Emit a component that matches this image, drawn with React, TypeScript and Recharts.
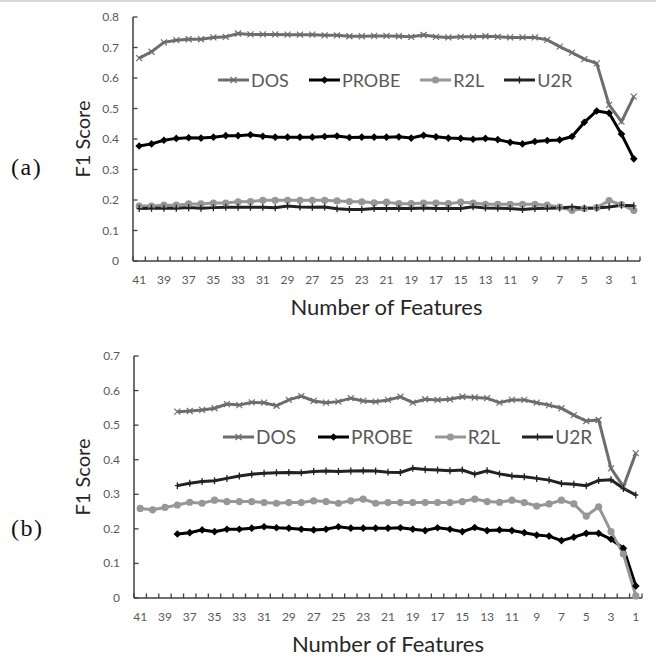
import { LineChart, Line, XAxis, YAxis, Legend } from 'recharts';

const FONT = 'Lato, "Open Sans", sans-serif';
const AXIS = '#3f3f3f';
const TICK_TEXT = '#595959';
const WIDTH = 656;

// x categories: number of features, reversed (41 -> 1)
const features = [41, 40, 39, 38, 37, 36, 35, 34, 33, 32, 31, 30, 29, 28, 27, 26, 25, 24, 23, 22, 21,
  20, 19, 18, 17, 16, 15, 14, 13, 12, 11, 10, 9, 8, 7, 6, 5, 4, 3, 2, 1];

const seriesNames = ['DOS', 'PROBE', 'R2L', 'U2R'];

// panel (a)
const dosA = [0.665, 0.686, 0.717, 0.724, 0.727, 0.727, 0.733, 0.735, 0.746, 0.743, 0.743, 0.743, 0.742, 0.742,
  0.742, 0.740, 0.740, 0.737, 0.737, 0.738, 0.738, 0.737, 0.735, 0.741, 0.735, 0.733, 0.735, 0.735, 0.737,
  0.735, 0.733, 0.733, 0.733, 0.725, 0.703, 0.683, 0.662, 0.648, 0.512, 0.457, 0.539];
const probeA = [0.377, 0.384, 0.396, 0.402, 0.404, 0.403, 0.406, 0.411, 0.411, 0.414, 0.409, 0.406, 0.406, 0.406,
  0.406, 0.408, 0.410, 0.405, 0.406, 0.406, 0.406, 0.407, 0.403, 0.412, 0.407, 0.403, 0.402, 0.399, 0.402,
  0.398, 0.389, 0.384, 0.392, 0.395, 0.397, 0.408, 0.455, 0.492, 0.485, 0.416, 0.335];
const r2lA = [0.180, 0.180, 0.183, 0.183, 0.187, 0.187, 0.190, 0.190, 0.194, 0.195, 0.199, 0.199, 0.199, 0.199,
  0.199, 0.199, 0.197, 0.195, 0.194, 0.191, 0.193, 0.188, 0.188, 0.190, 0.190, 0.188, 0.193, 0.190, 0.186,
  0.186, 0.186, 0.186, 0.186, 0.183, 0.177, 0.166, 0.172, 0.175, 0.198, 0.185, 0.166];
const u2rA = [0.172, 0.173, 0.173, 0.173, 0.175, 0.173, 0.175, 0.176, 0.176, 0.176, 0.176, 0.175, 0.180, 0.177,
  0.176, 0.177, 0.171, 0.169, 0.169, 0.172, 0.172, 0.172, 0.172, 0.174, 0.172, 0.172, 0.172, 0.178, 0.174,
  0.173, 0.172, 0.169, 0.172, 0.173, 0.174, 0.177, 0.173, 0.174, 0.177, 0.183, 0.181];

// panel (b) - DOS, PROBE, U2R start at 38 features
const dosB = [null, null, null, 0.539, 0.541, 0.544, 0.549, 0.561, 0.558, 0.566, 0.565, 0.556, 0.573, 0.584,
  0.570, 0.565, 0.568, 0.578, 0.570, 0.568, 0.573, 0.582, 0.565, 0.575, 0.573, 0.575, 0.582, 0.580, 0.578,
  0.565, 0.573, 0.573, 0.565, 0.558, 0.549, 0.529, 0.512, 0.515, 0.375, 0.322, 0.419];
const probeB = [null, null, null, 0.185, 0.189, 0.197, 0.192, 0.199, 0.199, 0.202, 0.206, 0.203, 0.202, 0.199,
  0.197, 0.199, 0.206, 0.202, 0.202, 0.202, 0.202, 0.203, 0.199, 0.195, 0.203, 0.199, 0.192, 0.204, 0.195,
  0.197, 0.195, 0.189, 0.182, 0.179, 0.166, 0.176, 0.187, 0.187, 0.170, 0.144, 0.035];
const r2lB = [0.259, 0.255, 0.262, 0.269, 0.277, 0.274, 0.283, 0.279, 0.279, 0.279, 0.276, 0.274, 0.276, 0.276,
  0.281, 0.279, 0.274, 0.281, 0.286, 0.274, 0.276, 0.276, 0.276, 0.276, 0.276, 0.276, 0.279, 0.286, 0.279,
  0.277, 0.283, 0.276, 0.266, 0.272, 0.283, 0.272, 0.237, 0.264, 0.192, 0.127, 0.006];
const u2rB = [null, null, null, 0.325, 0.332, 0.337, 0.339, 0.346, 0.353, 0.358, 0.361, 0.362, 0.363, 0.362,
  0.366, 0.367, 0.366, 0.367, 0.368, 0.367, 0.364, 0.363, 0.375, 0.372, 0.370, 0.368, 0.370, 0.358, 0.368,
  0.359, 0.353, 0.351, 0.346, 0.341, 0.331, 0.329, 0.325, 0.340, 0.342, 0.317, 0.298];

const yTicksA = [0, 0.1, 0.2, 0.3, 0.4, 0.5, 0.6, 0.7, 0.8];
const yTicksB = [0, 0.1, 0.2, 0.3, 0.4, 0.5, 0.6, 0.7];

const look: Record<string, { color: string; marker: string }> = {
  DOS: { color: '#6d6d6d', marker: 'x' },
  PROBE: { color: '#000000', marker: 'diamond' },
  R2L: { color: '#979797', marker: 'circle' },
  U2R: { color: '#222222', marker: 'plus' },
};

function buildRows(cols: (number | null)[][]) {
  return features.map((f, i) => {
    const row: Record<string, number | null> = { f };
    seriesNames.forEach((s, k) => (row[s] = cols[k][i]));
    return row;
  });
}

const rowsA = buildRows([dosA, probeA, r2lA, u2rA]);
const rowsB = buildRows([dosB, probeB, r2lB, u2rB]);

function Marker({ kind, x, y, color }: { kind: string; x: number; y: number; color: string }) {
  if (kind === 'x') {
    const d = 3;
    return <path d={`M${x - d},${y - d}L${x + d},${y + d}M${x - d},${y + d}L${x + d},${y - d}`} stroke={color} strokeWidth={1.2} fill="none" />;
  }
  if (kind === 'diamond') {
    const d = 3.8;
    return <path d={`M${x},${y - d}L${x + d},${y}L${x},${y + d}L${x - d},${y}Z`} fill={color} />;
  }
  if (kind === 'circle') return <circle cx={x} cy={y} r={3.6} fill={color} />;
  return <path d={`M${x},${y - 3.5}V${y + 3.5}M${x - 2.5},${y}H${x + 2.5}`} stroke={color} strokeWidth={1.3} />;
}

function renderDot(name: string) {
  const s = look[name];
  return (p: any) => {
    if (p.cx == null || p.cy == null || p.value == null) return <g key={`${name}-${p.index}`} />;
    return (
      <g key={`${name}-${p.index}`}>
        <Marker kind={s.marker} x={p.cx} y={p.cy} color={s.color} />
      </g>
    );
  };
}

function LegendRow({ payload, fontSize, gap }: any) {
  return (
    <div style={{ display: 'flex', alignItems: 'center', gap, fontFamily: FONT, fontSize, color: TICK_TEXT, lineHeight: '22px' }}>
      {(payload || []).map((e: any) => {
        const s = look[e.dataKey];
        return (
          <div key={e.dataKey} style={{ display: 'flex', alignItems: 'center' }}>
            <svg width={31} height={12}>
              <line x1={0} x2={31} y1={6} y2={6} stroke={s.color} strokeWidth={3} />
              <Marker kind={s.marker} x={15.5} y={6} color={s.color} />
            </svg>
            <span style={{ marginLeft: 2 }}>{e.value}</span>
          </div>
        );
      })}
    </div>
  );
}

type PanelProps = {
  rows: Record<string, number | null>[];
  yMax: number;
  yTicks: number[];
  top: number;
  height: number;
  marginTop: number;
  yAxisWidth: number;
  marginRight: number;
  legendLeft: number;
  legendTop: number;
  legendFont: number;
  legendGap: number;
  tag: string;
  tagTop: number;
};

function Panel(p: PanelProps) {
  const band = (WIDTH - p.yAxisWidth - p.marginRight) / features.length;
  const xTick = ({ x, y, payload, index }: any) => (
    <g>
      <line x1={x - band / 2} x2={x - band / 2} y1={y} y2={y - 4.5} stroke={AXIS} strokeWidth={1.3} />
      {index === features.length - 1 && (
        <line x1={x + band / 2} x2={x + band / 2} y1={y} y2={y - 4.5} stroke={AXIS} strokeWidth={1.3} />
      )}
      {payload.value % 2 === 1 && (
        <text x={x} y={y + 23} textAnchor="middle" fontSize={12} fontFamily={FONT} fill={TICK_TEXT}>
          {payload.value}
        </text>
      )}
    </g>
  );
  const yTick = ({ x, y, payload }: any) => (
    <g>
      <line x1={x} x2={x + 4.5} y1={y} y2={y} stroke={AXIS} strokeWidth={1.3} />
      <text x={x - 14} y={y} dy={4} textAnchor="end" fontSize={12} fontFamily={FONT} fill={TICK_TEXT}>
        {payload.value === 0 ? '0' : payload.value.toFixed(1)}
      </text>
    </g>
  );

  return (
    <div style={{ position: 'absolute', left: 0, top: p.top }}>
      <div style={{ position: 'absolute', left: 11, top: p.tagTop, fontFamily: '"Liberation Serif", serif', fontSize: 24, letterSpacing: 1.5, color: '#111' }}>
        {p.tag}
      </div>
      <LineChart width={WIDTH} height={p.height} data={p.rows} margin={{ top: p.marginTop, right: p.marginRight, left: 0, bottom: 0 }}>
        <XAxis
          dataKey="f"
          type="category"
          scale="band"
          interval={0}
          height={60}
          tickSize={0}
          tickMargin={0}
          tickLine={false}
          tick={xTick}
          axisLine={{ stroke: AXIS, strokeWidth: 1.5 }}
          label={{ value: 'Number of Features', position: 'insideBottom', offset: 6, fontSize: 22, fontFamily: FONT, fill: '#262626' }}
        />
        <YAxis
          type="number"
          domain={[0, p.yMax]}
          ticks={p.yTicks}
          interval={0}
          width={p.yAxisWidth}
          tickSize={0}
          tickMargin={0}
          tickLine={false}
          tick={yTick}
          axisLine={{ stroke: AXIS, strokeWidth: 1.5 }}
          label={{ value: 'F1 Score', angle: -90, position: 'center', dx: 16, fontSize: 20, fontFamily: FONT, fill: '#262626' }}
        />
        <Legend
          layout="horizontal"
          verticalAlign="middle"
          align="center"
          wrapperStyle={{ left: p.legendLeft, top: p.legendTop, width: 'auto' }}
          content={(props: any) => <LegendRow {...props} fontSize={p.legendFont} gap={p.legendGap} />}
        />
        {seriesNames.map((name) => (
          <Line
            key={name}
            dataKey={name}
            name={name}
            stroke={look[name].color}
            strokeWidth={3}
            dot={renderDot(name)}
            activeDot={false}
            isAnimationActive={false}
          />
        ))}
      </LineChart>
    </div>
  );
}

export default function App() {
  return (
    <div style={{ position: 'absolute', left: 0, top: 0, width: WIDTH, height: 660, background: '#fff', borderTop: '2px solid #d6d6d6', boxSizing: 'border-box' }}>
      <Panel
        rows={rowsA}
        yMax={0.8}
        yTicks={yTicksA}
        top={-2}
        height={321}
        marginTop={17}
        yAxisWidth={133}
        marginRight={16}
        legendLeft={218}
        legendTop={69}
        legendFont={18}
        legendGap={20}
        tag="(a)"
        tagTop={154}
      />
      <Panel
        rows={rowsB}
        yMax={0.7}
        yTicks={yTicksB}
        top={328}
        height={328}
        marginTop={26}
        yAxisWidth={134}
        marginRight={14}
        legendLeft={223}
        legendTop={96}
        legendFont={19}
        legendGap={22}
        tag="(b)"
        tagTop={185}
      />
    </div>
  );
}
